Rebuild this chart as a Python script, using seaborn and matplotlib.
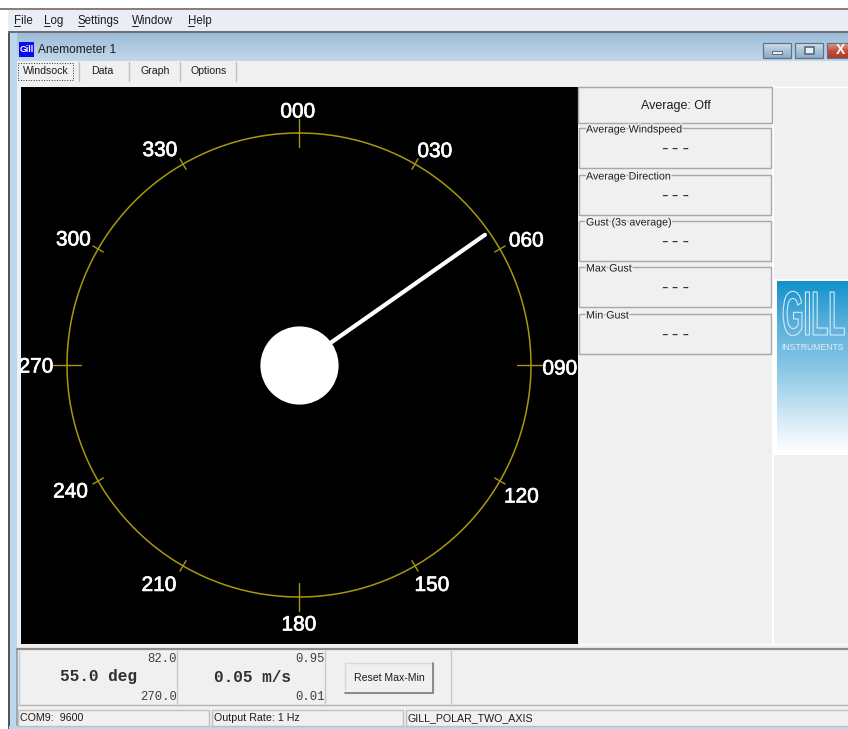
import numpy as np
import pandas as pd
import matplotlib
matplotlib.use('Agg')
import matplotlib.pyplot as plt
import matplotlib.patheffects as pe
from matplotlib.colors import LinearSegmentedColormap
from matplotlib.patches import Rectangle
from matplotlib.transforms import Affine2D
import seaborn as sns

# readings shown on the windsock page
compass_labels = ['000', '030', '060', '090', '120', '150', '180', '210', '240', '270', '300', '330']
compass_degrees = [0, 30, 60, 90, 120, 150, 180, 210, 240, 270, 300, 330]
wind_direction = [55.0, 55.0]
needle_reach = [0, 227]

menu_items = ['File', 'Log', 'Settings', 'Window', 'Help']
tab_names = ['Windsock', 'Data', 'Graph', 'Options']
group_titles = ['Average Windspeed', 'Average Direction', 'Gust (3s average)', 'Max Gust', 'Min Gust']
status_texts = ['COM9:  9600', 'Output Rate: 1 Hz', 'GILL_POLAR_TWO_AXIS']

W, H = 848, 729
PANEL = '#f0f0f0'
EDGE = '#a8a8a8'
TEXT = '#1c1c1c'
RING = '#a8980c'
CX, CY = 299, 365
RADIUS = 232
POLAR_EXTENT = 290

# the dial labels do not sit on a true circle in the app, so nudge each one (pixels)
label_nudges = [(-1, -5), (7, -10), (4, -5), (3, -4), (-1, -3), (4, 3),
                (0, -2), (-11, 3), (-5, 2), (-5, -2), (-2, -4), (-10, -9)]

sns.set_theme(style='white')
plt.rcParams['font.family'] = ['Liberation Sans', 'DejaVu Sans']

fig = plt.figure(figsize=(W / 100, H / 100), dpi=100, facecolor='white')
ui = fig.add_axes([0, 0, 1, 1])
ui.set_xlim(0, W)
ui.set_ylim(H, 0)
ui.axis('off')


class TallOutline(pe.AbstractPathEffect):
    """Stretch text upward from its baseline and draw only the outline."""

    def __init__(self, stretch, color, width):
        super().__init__()
        self.stretch = stretch
        self.color = color
        self.width = width

    def draw_path(self, renderer, gc, tpath, affine, rgbFace):
        gc0 = renderer.new_gc()
        gc0.copy_properties(gc)
        gc0.set_foreground(self.color)
        gc0.set_linewidth(self.width)
        renderer.draw_path(gc0, tpath, Affine2D().scale(1, self.stretch) + affine, None)
        gc0.restore()


def box(x0, y0, x1, y1, face=PANEL, edge='none', lw=1.0, z=1):
    ui.add_patch(Rectangle((x0, y0), x1 - x0, y1 - y0, facecolor=face, edgecolor=edge, linewidth=lw, zorder=z))


def gradient(x0, y0, x1, y1, colors, z=2):
    cmap = LinearSegmentedColormap.from_list('g', colors)
    grad = np.linspace(0, 1, 64).reshape(-1, 1)
    ui.imshow(grad, cmap=cmap, extent=(x0, x1, y1, y0), aspect='auto', zorder=z)


def label(x, y, s, size=8, ha='left', color=TEXT, z=5, **kw):
    ui.text(x, y, s, fontsize=size, ha=ha, va='center', color=color, zorder=z, **kw)


# window frame, menu bar
box(0, 0, W, 9, face='white')
box(0, 8, W, 10, face='#8a8078', z=2)
box(8, 10, W, 31, face='#e9eef6', z=2)
box(8, 31, W, 33, face='#6c7076', z=2)
gradient(10, 33, W, 61, ['#9dbcd8', '#c3d8ec'])
box(9, 33, 17, 729, face='#bcd6ee', z=2)
box(8, 33, 10, 729, face='#50555c', z=3)
box(17, 61, W, 729, face=PANEL, z=2)
box(16, 650, 18, 726, face='#9aa8b4', z=3)
box(9, 726, W, 729, face='#bcd6ee', z=4)

menu_x = [14, 44, 78, 132, 188]
for x, name in zip(menu_x, menu_items):
    label(x, 20.5, name, size=8.3)
    ui.plot([x, x + 6], [26, 26], color=TEXT, lw=0.7, zorder=5)

# title bar
box(19, 42, 34, 57, face='#0a0aee', z=4)
label(26.5, 49.5, 'Gill', size=6.3, ha='center', color='white', weight='bold')
label(38, 50, 'Anemometer 1', size=8.6)
for x0, x1, shades in [(763, 791, ['#d2e0ee', '#a9c2d8', '#8fadc8']),
                       (795, 823, ['#d2e0ee', '#a9c2d8', '#8fadc8']),
                       (827, 849, ['#e0a090', '#c8503c', '#a83a28'])]:
    gradient(x0, 43, x1, 58, shades, z=4)
    box(x0, 43, x1, 58, face='none', edge='#5f7386', lw=0.9, z=5)
box(772, 51, 782, 54, face='#e8eef4', edge='#5a6a7a', lw=0.7, z=6)
box(805, 47, 814, 54, face='#e8eef4', edge='#5a6a7a', lw=1.2, z=6)
label(840, 50, 'X', size=10, ha='center', color='white', weight='bold', z=6)

# tabs
tab_centers = [46, 102, 155, 209]
tab_edges = [79, 129, 180, 236]
for cx, name in zip(tab_centers, tab_names):
    label(cx, 71, name, size=7.6, ha='center')
for x in tab_edges:
    ui.plot([x, x], [62, 81], color='#c0c0c0', lw=1, zorder=4)
box(18, 63, 73, 80, face='none', edge='#303030', lw=0.7, z=5)
ui.patches[-1].set_linestyle(':')

# compass background and right hand column
box(21, 87, 578, 644, face='black', z=3)
box(578, 87, 772, 644, face=PANEL, z=3)
ui.plot([578, 848], [644, 644], color='white', lw=1, zorder=3)
ui.plot([773, 773], [87, 644], color='white', lw=1.5, zorder=3)
ui.plot([773, 848], [87, 87], color='white', lw=1, zorder=3)
box(578, 87, 772, 123, face=PANEL, edge=EDGE, lw=1, z=4)
label(675.5, 106, 'Average: Off', size=9, ha='center')

group_tops = [128, 175, 221, 267, 314]
for top, title in zip(group_tops, group_titles):
    box(578.5, top, 771, top + 40, face=PANEL, edge=EDGE, lw=1, z=4)
    ui.text(586, top + 1.5, title, fontsize=7.7, ha='left', va='center', color=TEXT, zorder=6,
            path_effects=[pe.withStroke(linewidth=2, foreground=PANEL)])
    label(675, top + 21, '---', size=13, ha='center', color='#333333', family='Liberation Mono')

# logo
box(774, 279, W, 455, face='white', z=4)
gradient(777, 281, W, 453, ['#1392cb', '#5cb0da', '#86c6e4', '#c6e4f2', '#ffffff'], z=5)
ui.text(782, 335, 'GILL', fontsize=20, ha='left', va='baseline', color='#cdeafa', weight='bold', zorder=6,
        path_effects=[TallOutline(2.25, '#cdeafa', 0.8)])
label(813, 347, 'INSTRUMENTS', size=6.2, ha='center', color='#dff1fa', z=6)

# bottom read-outs
ui.plot([17, W], [648.5, 648.5], color='#8c8c8c', lw=1.6, zorder=4)
ui.plot([17, W], [705, 705], color='#b4b4b4', lw=1, zorder=4)
for x in [19, 177, 325, 451]:
    ui.plot([x, x], [651, 705], color='#c8c8c8', lw=1, zorder=4)
label(99, 677, '55.0 deg', size=11.6, ha='center', family='Liberation Mono', weight='bold', color='#303030')
label(177, 659.5, '82.0', size=8.8, ha='right', family='Liberation Mono', color='#404040')
label(177, 696.5, '270.0', size=8.8, ha='right', family='Liberation Mono', color='#404040')
label(252, 677, '0.05 m/s', size=11.6, ha='center', family='Liberation Mono', weight='bold', color='#303030')
label(325, 659.5, '0.95', size=8.8, ha='right', family='Liberation Mono', color='#404040')
label(325, 696.5, '0.01', size=8.8, ha='right', family='Liberation Mono', color='#404040')
box(345, 662.5, 433, 693, face=PANEL, edge='#d8d8d8', lw=1, z=4)
ui.plot([345, 433, 433], [693, 693, 662.5], color='#7c7c7c', lw=1.2, zorder=5)
label(389, 678, 'Reset Max-Min', size=7.6, ha='center')

# status bar
for (x0, x1), s in zip([(18, 209), (212, 403), (406, W + 5)], status_texts):
    box(x0, 710, x1, 726, face=PANEL, edge='#c0c0c0', lw=1, z=5)
    label(x0 + 2, 718, s, size=7.7, z=6)

# compass dial on polar axes, radius is in reference pixels
extent_w, extent_h = 2 * POLAR_EXTENT / W, 2 * POLAR_EXTENT / H
dial = fig.add_axes([(CX - POLAR_EXTENT) / W, 1 - (CY + POLAR_EXTENT) / H, extent_w, extent_h],
                    projection='polar')
dial.set_theta_zero_location('N')
dial.set_theta_direction(-1)
dial.set_rlim(0, POLAR_EXTENT)
dial.patch.set_alpha(0)
dial.axis('off')

ring_theta = np.linspace(0, 2 * np.pi, 361)
dial.plot(ring_theta, np.full_like(ring_theta, RADIUS), color=RING, lw=1.1)

ticks = []
for deg in compass_degrees:
    half = 14 if deg % 90 == 0 else 6
    ticks.append(pd.DataFrame({'theta': np.radians([deg, deg]), 'r': [RADIUS - half, RADIUS + half], 'tick': deg}))
ticks = pd.concat(ticks)
sns.lineplot(data=ticks, x='theta', y='r', units='tick', estimator=None, color=RING, lw=1.0,
             sort=False, legend=False, ax=dial)

needle = pd.DataFrame({'theta': np.radians(wind_direction), 'r': needle_reach})
sns.lineplot(data=needle, x='theta', y='r', estimator=None, color='white', lw=3.0, sort=False, ax=dial,
             solid_capstyle='round')
sns.scatterplot(x=[0.0], y=[0.0], color='white', s=3170, linewidth=0, ax=dial, clip_on=False, zorder=6)

for deg, text, nudge in zip(compass_degrees, compass_labels, label_nudges):
    dial.annotate(text, xy=(np.radians(deg), 258), xytext=nudge, textcoords='offset pixels',
                  color='white', fontsize=15, ha='center', va='center', clip_on=False, zorder=7,
                  path_effects=[pe.withStroke(linewidth=0.5, foreground='white')])

dial.set_xlabel('')
dial.set_ylabel('')
dial.set_rlim(0, POLAR_EXTENT)

fig.savefig('out.png', dpi=100)
